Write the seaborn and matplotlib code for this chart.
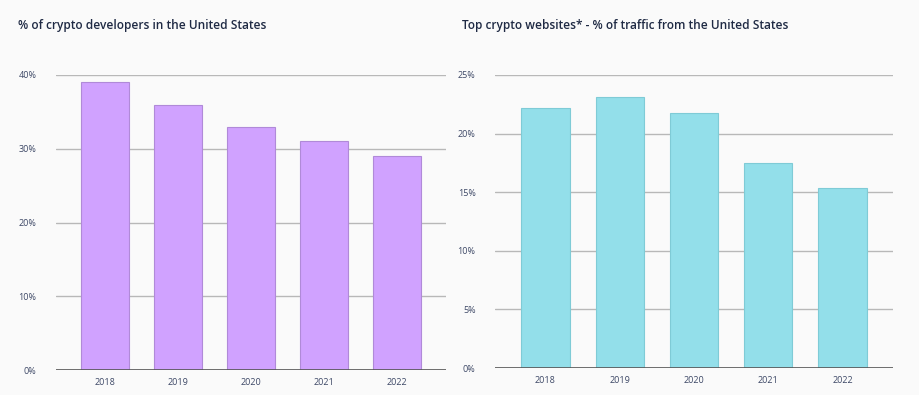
import matplotlib.pyplot as plt
import seaborn as sns
import pandas as pd

years = ['2018', '2019', '2020', '2021', '2022']
dev_share = [39, 36, 33, 31, 29]
traffic_share = [22.2, 23.1, 21.8, 17.5, 15.4]

left_title = '% of crypto developers in the United States'
right_title = 'Top crypto websites* - % of traffic from the United States'

sns.set_style('white')
plt.rcParams['font.family'] = ['Open Sans', 'DejaVu Sans']

bg = '#fafafa'
text_dark = '#1f2a44'
tick_col = '#3d4866'


def draw_panel(ax, values, color, edge, ticks, ymax, width):
    df = pd.DataFrame({'year': years, 'value': values})
    sns.barplot(data=df, x='year', y='value', color=color, width=width,
                edgecolor=edge, linewidth=0.8, saturation=1, ax=ax, zorder=3)
    ax.set_facecolor(bg)
    ax.set_ylim(0, ymax)
    ax.set_xlim(-0.68, 4.68)
    ax.set_yticks(ticks)
    ax.set_yticklabels([f'{t}%' for t in ticks])
    ax.set_xlabel('')
    ax.set_ylabel('')
    for t in ticks[1:]:
        ax.axhline(t, color='#b8b8b8', linewidth=1, zorder=1)
    ax.axhline(0, color='#555555', linewidth=1.2, zorder=4)
    for s in ax.spines.values():
        s.set_visible(False)
    ax.tick_params(axis='both', length=0, labelsize=6.5, colors=tick_col)
    ax.tick_params(axis='y', pad=14)
    ax.tick_params(axis='x', pad=6)


fig = plt.figure(figsize=(9.2, 3.95), dpi=100, facecolor=bg)
ax1 = fig.add_axes([56 / 920, 25 / 395, 390 / 920, 295 / 395])
ax2 = fig.add_axes([495 / 920, 27 / 395, 398 / 920, 293 / 395])

draw_panel(ax1, dev_share, '#d0a2ff', '#b08ad8', [0, 10, 20, 30, 40], 40, 0.66)
draw_panel(ax2, traffic_share, '#93dfea', '#7fcbd6', [0, 5, 10, 15, 20, 25], 25, 0.65)

fig.text(18 / 920, 1 - 25 / 395, left_title, fontsize=8.6, color=text_dark,
         va='center', fontweight='semibold')
fig.text(462 / 920, 1 - 25 / 395, right_title, fontsize=8.6, color=text_dark,
         va='center', fontweight='semibold')

plt.savefig('out.png', dpi=100, facecolor=bg)
plt.close()
